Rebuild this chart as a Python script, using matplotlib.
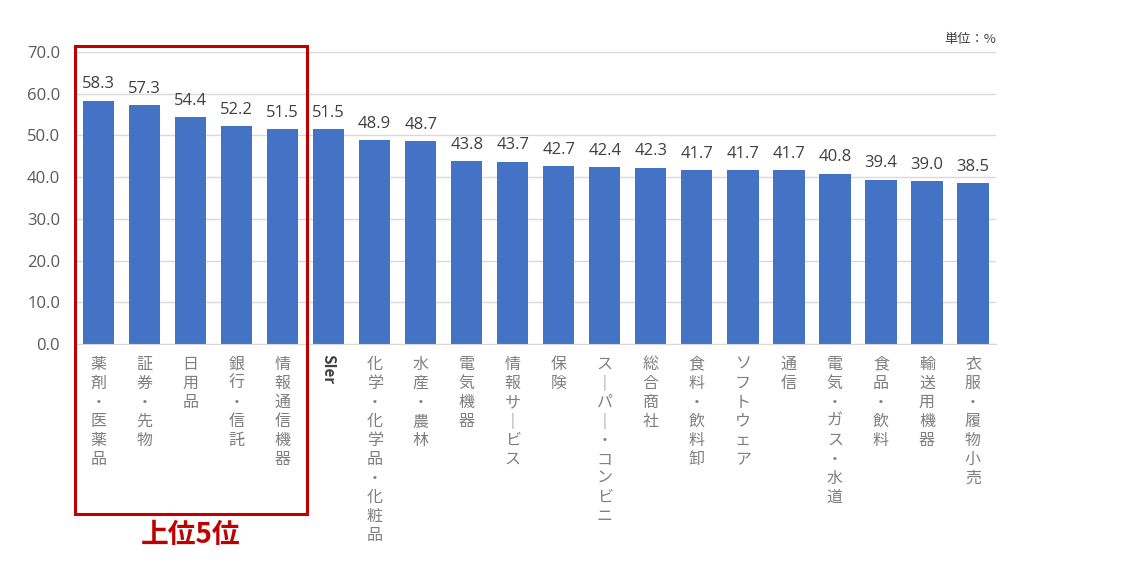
import matplotlib
matplotlib.use("Agg")
import matplotlib.pyplot as plt
from matplotlib.patches import Rectangle

plt.rcParams['font.family'] = ['Noto Sans CJK JP', 'DejaVu Sans']
NUM_FONT = ['Open Sans', 'DejaVu Sans']

# data
categories = ["薬剤・医薬品", "証券・先物", "日用品", "銀行・信託", "情報通信機器",
              "SIer", "化学・化学品・化粧品", "水産・農林", "電気機器", "情報サービス",
              "保険", "スーパー・コンビニ", "総合商社", "食料・飲料卸", "ソフトウェア",
              "通信", "電気・ガス・水道", "食品・飲料", "輸送用機器", "衣服・履物小売"]
values = [58.3, 57.3, 54.4, 52.2, 51.5, 51.5, 48.9, 48.7, 43.8, 43.7,
          42.7, 42.4, 42.3, 41.7, 41.7, 41.7, 40.8, 39.4, 39.0, 38.5]
yticks = [0, 10, 20, 30, 40, 50, 60, 70]
top_n = 5

W, H = 1124, 573
fig = plt.figure(figsize=(W / 100, H / 100), dpi=100)
ax = fig.add_axes([75.5 / W, 1 - 344 / H, (996 - 75.5) / W, (344 - 52) / H])

x = list(range(len(categories)))
bars = ax.bar(x, values, width=0.68, color="#4472C4", zorder=3)

ax.set_xlim(-0.5, len(categories) - 0.5)
ax.set_ylim(0, 70)
ax.set_yticks(yticks)
ax.set_yticklabels([f"{v:.1f}" for v in yticks], fontsize=12, color="#595959",
                   family=NUM_FONT)
ax.tick_params(axis="y", length=0, pad=11)
ax.tick_params(axis="x", length=0, labelbottom=False)
ax.grid(axis="y", color="#D9D9D9", linewidth=1, zorder=0)
for side in ["top", "right", "left"]:
    ax.spines[side].set_visible(False)
ax.spines["bottom"].set_color("#D9D9D9")
ax.spines["bottom"].set_zorder(4)

# value labels
for xi, v in zip(x, values):
    ax.annotate(f"{v:.1f}", (xi, v), xytext=(0, 6), textcoords="offset points",
                ha="center", va="bottom", fontsize=12, color="#404040",
                family=NUM_FONT)

# vertical category labels
trans = ax.get_xaxis_transform()
for xi, name in zip(x, categories):
    if name.isascii():
        ax.text(xi, -0.035, name, transform=trans, rotation=-90, ha="center",
                va="top", fontsize=11, color="#404040", fontweight="bold")
    else:
        stacked = "\n".join("｜" if c == "ー" else c for c in name)
        ax.text(xi, -0.04, stacked, transform=trans, ha="center", va="top",
                fontsize=11.5, color="#7F7F7F", linespacing=1.16)

ax.text(1.0, 1.02, "単位：%", transform=ax.transAxes, ha="right", va="bottom",
        fontsize=9.5, color="#404040")

# highlight box around the top five
fig.add_artist(Rectangle((75 / W, 1 - 514 / H), (307 - 75) / W, (514 - 46) / H,
                         transform=fig.transFigure, fill=False,
                         edgecolor="#C00000", linewidth=2.2))
fig.text(191 / W, 1 - 535 / H, f"上位{top_n}位", ha="center", va="center",
         fontsize=20, fontweight="bold", color="#C00000")

fig.savefig("out.png", dpi=100)
